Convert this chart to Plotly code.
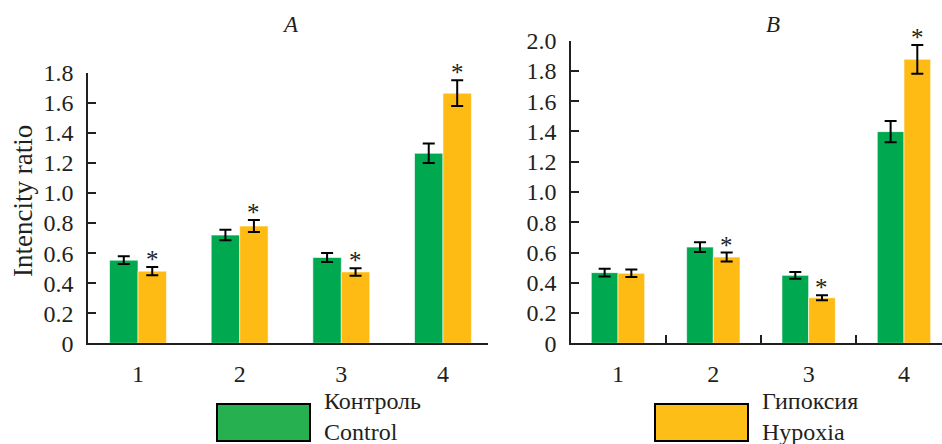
import plotly.graph_objects as go

# Data: intensity ratio per group, control vs hypoxia, panels A and B
categories = [1, 2, 3, 4]
tick_labels = ["1", "2", "3", "4"]

a_control = [0.553, 0.72, 0.571, 1.264]
a_control_err = [0.026, 0.035, 0.03, 0.065]
a_hypoxia = [0.48, 0.78, 0.475, 1.664]
a_hypoxia_err = [0.027, 0.04, 0.025, 0.085]
a_signif = [True, True, True, True]

b_control = [0.467, 0.636, 0.449, 1.399]
b_control_err = [0.025, 0.032, 0.023, 0.07]
b_hypoxia = [0.463, 0.57, 0.301, 1.877]
b_hypoxia_err = [0.024, 0.03, 0.017, 0.095]
b_signif = [False, True, True, True]

a_yticks = [0, 0.2, 0.4, 0.6, 0.8, 1.0, 1.2, 1.4, 1.6, 1.8]
b_yticks = [0, 0.2, 0.4, 0.6, 0.8, 1.0, 1.2, 1.4, 1.6, 1.8, 2.0]

GREEN = "#00A84F"
ORANGE = "#FDBB14"
LEG_GREEN = "#27B04F"
LEG_ORANGE = "#FDBF17"
INK = "#231F20"
FONT = "Liberation Serif, Times New Roman, serif"

W, H = 942, 444
BW = 0.28  # width of a single bar in category units


def px(x):
    return x / W


def py(y):
    return 1 - y / H


def fmt(v):
    return "0" if v == 0 else f"{v:.1f}"


fig = go.Figure()

panels = [
    ("x", "y", a_control, a_control_err, a_hypoxia, a_hypoxia_err, a_signif),
    ("x2", "y2", b_control, b_control_err, b_hypoxia, b_hypoxia_err, b_signif),
]

annotations = []
for xa, ya, ctl, ctl_e, hyp, hyp_e, sig in panels:
    err_style = dict(type="data", thickness=2, width=6, color="black", visible=True)
    fig.add_trace(go.Bar(
        x=categories, y=ctl, width=BW, offset=-BW,
        marker=dict(color=GREEN, line=dict(color="rgba(255,255,255,0.6)", width=1)),
        error_y=dict(array=ctl_e, **err_style),
        xaxis=xa, yaxis=ya, showlegend=False, name="Control",
    ))
    fig.add_trace(go.Bar(
        x=categories, y=hyp, width=BW, offset=0,
        marker=dict(color=ORANGE, line=dict(color="rgba(255,255,255,0.6)", width=1)),
        error_y=dict(array=hyp_e, **err_style),
        xaxis=xa, yaxis=ya, showlegend=False, name="Hypoxia",
    ))
    # significance marks above hypoxia bars
    for c, v, e, s in zip(categories, hyp, hyp_e, sig):
        if s:
            annotations.append(dict(
                x=c + BW / 2, y=v + e, xref=xa, yref=ya, text="*",
                showarrow=False, xanchor="center", yanchor="bottom", yshift=-8,
                font=dict(family=FONT, size=25, color=INK),
            ))

tick_font = dict(family=FONT, size=24, color=INK)
axis_common = dict(
    showline=True, linecolor=INK, linewidth=1.5, showgrid=False, zeroline=False,
    automargin=False,
)

fig.update_layout(
    template="none",
    width=W, height=H,
    margin=dict(l=0, r=0, t=0, b=0, pad=0),
    paper_bgcolor="white", plot_bgcolor="white",
    font=dict(family=FONT, size=24, color=INK),
    barmode="overlay",
    showlegend=False,
    xaxis=dict(
        domain=[px(88), px(488)], range=[0.508, 4.443],
        tickvals=categories, ticktext=tick_labels, ticks="",
        tickfont=tick_font, ticklabelstandoff=8, anchor="y", **axis_common,
    ),
    yaxis=dict(
        domain=[py(343.3), py(72.7)], range=[0, 1.8],
        tickvals=a_yticks, ticktext=[fmt(v) for v in a_yticks],
        ticks="inside", ticklen=8, tickwidth=1.5, tickcolor=INK,
        tickfont=tick_font, ticklabelstandoff=8, anchor="x", **axis_common,
    ),
    xaxis2=dict(
        domain=[px(571), 1.0], range=[0.507, 4.399],
        tickvals=categories, ticktext=tick_labels, ticks="",
        tickfont=tick_font, ticklabelstandoff=8, anchor="y2",
        minor=dict(tickvals=[1.5, 2.5, 3.5], ticks="inside", ticklen=9,
                   tickwidth=1.5, tickcolor=INK),
        **axis_common,
    ),
    yaxis2=dict(
        domain=[py(343.3), py(40.7)], range=[0, 2.0],
        tickvals=b_yticks, ticktext=[fmt(v) for v in b_yticks],
        ticks="inside", ticklen=8, tickwidth=1.5, tickcolor=INK,
        tickfont=tick_font, ticklabelstandoff=8, anchor="x2", **axis_common,
    ),
)

# Panel titles and y-axis title
annotations += [
    dict(x=px(290), y=py(25), xref="paper", yref="paper", text="<i>A</i>",
         xanchor="center", yanchor="middle",
         showarrow=False, font=dict(family=FONT, size=23, color=INK)),
    dict(x=px(773), y=py(25), xref="paper", yref="paper", text="<i>B</i>",
         xanchor="center", yanchor="middle",
         showarrow=False, font=dict(family=FONT, size=23, color=INK)),
    dict(x=px(23), y=py(201), xref="paper", yref="paper", text="Intencity ratio",
         xanchor="center", yanchor="middle",
         textangle=-90, showarrow=False, font=dict(family=FONT, size=27, color=INK)),
]

# Legend: swatches with bilingual two-line labels
legend_items = [
    (217, 310, LEG_GREEN, "Контроль", "Control"),
    (655, 748, LEG_ORANGE, "Гипоксия", "Hypoxia"),
]
shapes = []
for x0, x1, col, ru, en in legend_items:
    shapes.append(dict(type="rect", xref="paper", yref="paper",
                       x0=px(x0), x1=px(x1), y0=py(441), y1=py(404),
                       fillcolor=col, line=dict(color="black", width=2)))
    annotations.append(dict(x=px(x1 + 12), y=py(386), xref="paper", yref="paper",
                            text=f"{ru}<br>{en}", xanchor="left", yanchor="top",
                            align="left", showarrow=False,
                            font=dict(family=FONT, size=24, color=INK)))

fig.update_layout(annotations=annotations, shapes=shapes)

fig.write_html("out.html")
